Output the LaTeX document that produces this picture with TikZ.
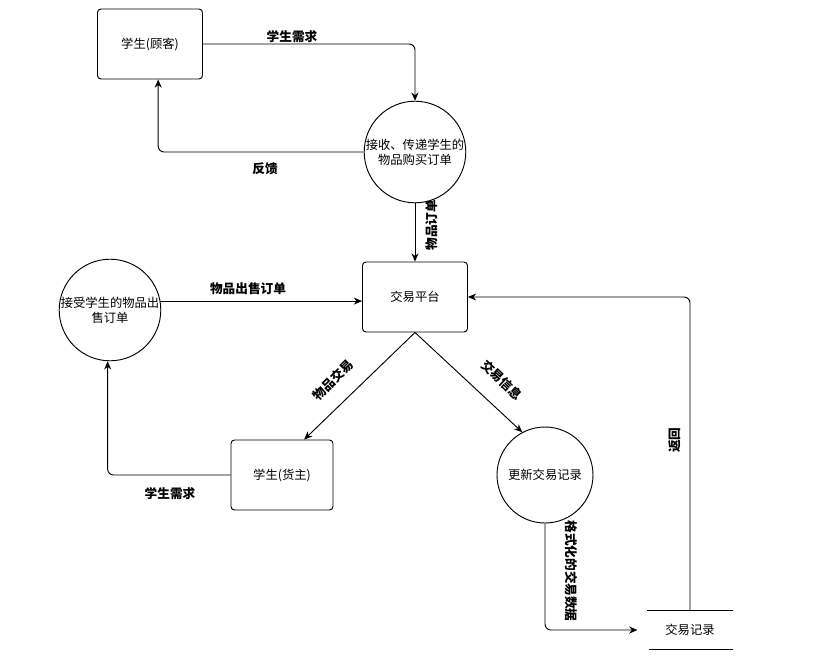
\documentclass[tikz,border=0pt]{standalone}
\usepackage{fontspec}
\setmainfont{Noto Sans CJK SC}
\usetikzlibrary{arrows.meta}

\begin{document}
\begin{tikzpicture}[x=0.03cm, y=-0.03cm,
  font=\fontsize{10.5}{12.5}\selectfont,
  entity/.style={draw, thick, rounded corners=3pt, minimum width=105*0.03cm, minimum height=70*0.03cm},
  proc/.style={draw, thick, circle, minimum size=100*0.03cm, inner sep=0pt, align=center},
  flow/.style={thick, rounded corners=5pt, -{Stealth[length=7pt,width=6pt]}},
  lbl/.style={font=\fontsize{10.8}{13}\selectfont\bfseries}]
\useasboundingbox[fill=white] (0,0) rectangle (830,658);
%
\node[entity] (cust) at (150,44) {学生(顾客)};
\node[proc] (recv) at (415,152) {接收、传递学生的\\物品购买订单};
\node[entity] (plat) at (415,297) {交易平台};
\node[proc] (sell) at (110,310) {接受学生的物品出\\售订单};
\node[entity, minimum width=102*0.03cm] (seller) at (282,475) {学生(货主)};
\node[proc, minimum size=96*0.03cm] (upd) at (545,475) {更新交易记录};
\node[minimum width=86*0.03cm, minimum height=38*0.03cm] (store) at (690,630) {交易记录};
\draw[thick] (store.north west) -- (store.north east);
\draw[thick] ([xshift=2pt]store.south west) -- (store.south east);
%
\draw[flow] (cust.east) -| (recv.north);
\draw[flow] (recv.west) -| ([xshift=7pt]cust.south);
\draw[flow] (recv.south) -- (plat.north);
\draw[flow] (sell.10) -- (sell.10 -| plat.west);
\draw[flow] (plat.south) -- (seller.58);
\draw[flow] (plat.south) -- (upd.118);
\draw[flow] (seller.west) -| ([xshift=-2pt]sell.south);
\draw[flow, shorten >=8pt] (upd.south) |- (store.west);
\draw[flow] (store.north) |- (plat.east);
%
\node[lbl] (l1) at (292,37) {学生需求};
\node[lbl] (l2) at (265,169) {反馈};
\node[lbl, rotate=90] (l3) at (432,225) {物品订单};
\node[lbl] (l4) at (248,289) {物品出售订单};
\node[lbl, rotate=45] (l5) at (333,380) {物品交易};
\node[lbl, rotate=-43] (l6) at (502,380) {交易信息};
\node[lbl] (l7) at (170,494) {学生需求};
\node[lbl, rotate=-90] (l8) at (571,571) {格式化的交易数据};
\node[lbl, rotate=90] (l9) at (675,440) {返回};
\end{tikzpicture}
\end{document}
